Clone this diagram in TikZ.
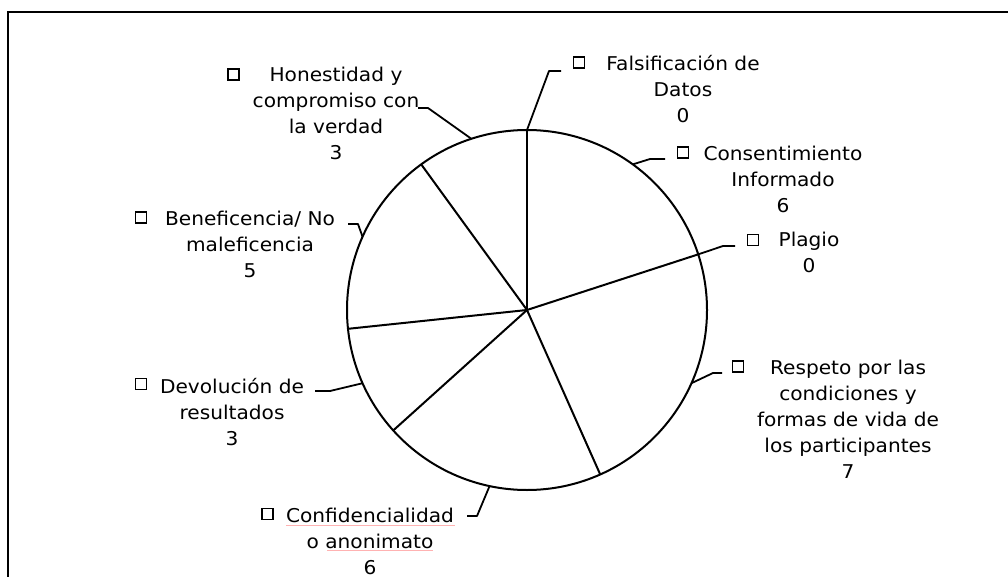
\documentclass[tikz,border=0pt]{standalone}
\usepackage{fontspec}
\setmainfont[FakeStretch=1.06]{DejaVu Sans}
\usetikzlibrary{calc}
\begin{document}
\begin{tikzpicture}[x=1pt,y=-1pt,
  lbl/.style={align=center,anchor=base,inner sep=0pt,font=\fontsize{19}{26}\selectfont},
  key/.style={draw,line width=1.5pt,minimum size=11pt,inner sep=0pt},
  lead/.style={line width=1.8pt,line join=round},
  pie/.style={line width=2pt},
  spell/.style={draw=red!30,line width=1pt}]
\useasboundingbox (0,0) rectangle (1008,577);
\fill[white] (0,0) rectangle (1008,577);
% frame
\coordinate (fa) at (8,577);
\coordinate (fb) at (8,12);
\coordinate (fc) at (1008,12);
\draw[line width=2pt] (fa) -- (fb) -- (fc);
% pie
\coordinate (C) at (527,310);
\draw[pie] (C) circle[radius=180pt];
\foreach \a/\n in {90/s1,18/s2,-66/s3,-138/s4,-174/s5,126/s6}{
  \coordinate (\n) at ($(C)+(\a:180pt)$);
  \draw[pie] (C) -- (\n);
}
% leader anchor points on circle (slice mid angles)
\coordinate (mF) at ($(C)+(90:180pt)$);
\coordinate (mC) at ($(C)+(54:180pt)$);
\coordinate (mP) at ($(C)+(18:180pt)$);
\coordinate (mR) at ($(C)+(-24:180pt)$);
\coordinate (mK) at ($(C)+(-102:180pt)$);
\coordinate (mD) at ($(C)+(204:180pt)$);
\coordinate (mB) at ($(C)+(156:180pt)$);
\coordinate (mH) at ($(C)+(108:180pt)$);
% leader bends and ends
\coordinate (bF) at (549,71);  \coordinate (eF) at (561,71);
\coordinate (bC) at (650,159); \coordinate (eC) at (665,159);
\coordinate (bP) at (723,246); \coordinate (eP) at (735,246);
\coordinate (bR) at (713,373); \coordinate (eR) at (722,373);
\coordinate (bK) at (477,516); \coordinate (eK) at (467,516);
\coordinate (bD) at (330,391); \coordinate (eD) at (315,391);
\coordinate (bB) at (358,224); \coordinate (eB) at (348,224);
\coordinate (bH) at (428,108); \coordinate (eH) at (418,108);
\foreach \k in {F,C,P,R,K,D,B,H}{
  \draw[lead] (m\k) -- (b\k) -- (e\k);
}
% legend keys
\node[key] (kH) at (233.5,74.5) {};
\node[key] (kF) at (579,62.5) {};
\node[key] (kC) at (683,152.5) {};
\node[key] (kP) at (753,240) {};
\node[key] (kR) at (738,366.5) {};
\node[key] (kB) at (141,217.5) {};
\node[key] (kD) at (141,384) {};
\node[key] (kK) at (267.5,514) {};
% labels (anchored at the baseline of their last line)
\node[lbl] (tH) at (336,160) {Honestidad y\\compromiso con\\la verdad\\3};
\node[lbl] (tF) at (683,123) {Falsificación de\\Datos\\0};
\node[lbl] (tC) at (783,213) {Consentimiento\\Informado\\6};
\node[lbl] (tP) at (809,272) {Plagio\\0};
\node[lbl] (tR) at (848,478) {Respeto por las\\condiciones y\\formas de vida de\\los participantes\\7};
\node[lbl] (tB) at (250,277) {Beneficencia/ No\\maleficencia\\5};
\node[lbl] (tD) at (232,445) {Devolución de\\resultados\\3};
\node[lbl] (tK) at (370,574) {Confidencialidad\\o anonimato\\6};
% spell-check marks
\coordinate (u1a) at (286,525); \coordinate (u1b) at (455,525);
\coordinate (u2a) at (327,550); \coordinate (u2b) at (433,550);
\draw[spell] (u1a) -- (u1b);
\draw[spell] (u2a) -- (u2b);
\end{tikzpicture}
\end{document}
